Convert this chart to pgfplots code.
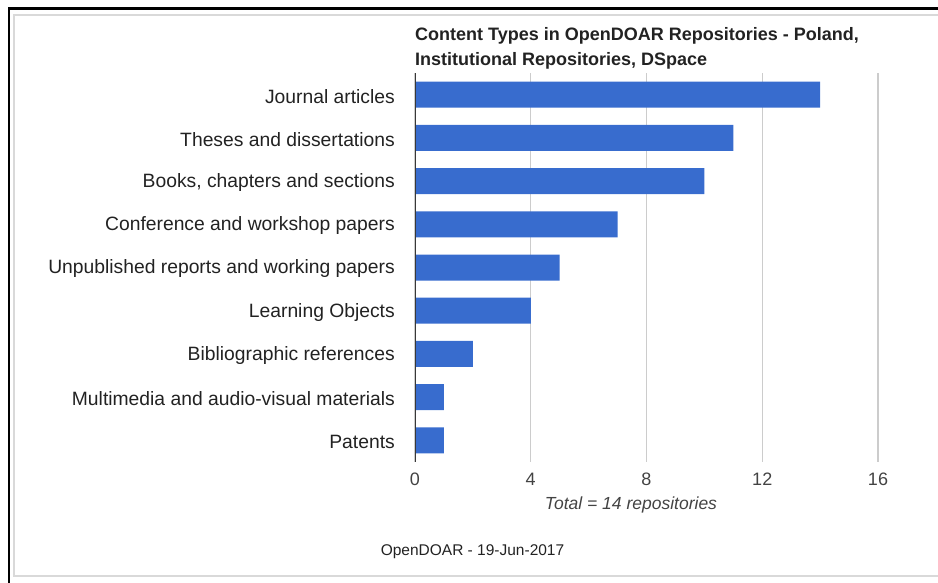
\documentclass[border=0pt]{standalone}
\usepackage{fontspec}
\setmainfont{Liberation Sans}
\usepackage{pgfplots}
\pgfplotsset{compat=1.18}
\definecolor{barblue}{RGB}{56,108,206}
\definecolor{txt}{HTML}{222222}
\definecolor{gridc}{HTML}{CCCCCC}
\definecolor{frameg}{HTML}{D9D9D9}
\begin{document}
\begin{tikzpicture}
\path[use as bounding box] (0,0) rectangle (938bp,583bp);
% outer frame
\draw[black, line width=2.5bp] (9bp,0) -- (9bp,574.5bp) -- (940bp,574.5bp);
\draw[frameg, line width=1.5bp] (14bp,7bp) rectangle (945bp,568bp);
\begin{axis}[
    at={(415bp,121bp)}, anchor=south west,
    scale only axis, width=463bp, height=389bp,
    xbar, bar width=26bp,
    xmin=0, xmax=16, ymin=-0.5, ymax=8.5,
    y dir=reverse,
    xtick={0,4,8,12,16},
    ytick={0,...,8},
    yticklabels={Journal articles,Theses and dissertations,{Books, chapters and sections},Conference and workshop papers,Unpublished reports and working papers,Learning Objects,Bibliographic references,Multimedia and audio-visual materials,Patents},
    xmajorgrids, grid style={gridc, line width=1.2bp},
    axis line style={draw=none},
    major tick length=0pt,
    /pgf/number format/assume math mode=true,
    yticklabel style={font=\fontsize{19.3bp}{22bp}\selectfont, text=txt, inner sep=0pt, anchor=east, xshift=-20bp, yshift=-1.5bp},
    xticklabel style={font=\fontsize{18bp}{22bp}\selectfont, text=txt!85, inner sep=0pt, anchor=north, yshift=-11bp},
]
\addplot[draw=none, fill=barblue] coordinates {(14,0) (11,1) (10,2) (7,3) (5,4) (4,5) (2,6) (1,7) (1,8)};
\draw[txt!90, line width=1.8bp] (rel axis cs:0,0) -- (rel axis cs:0,1);
\end{axis}
\node[anchor=base west, inner sep=0pt, text=txt, font=\fontsize{18bp}{22bp}\selectfont\bfseries] at (415bp,542bp) {Content Types in OpenDOAR Repositories - Poland,};
\node[anchor=base west, inner sep=0pt, text=txt, font=\fontsize{18bp}{22bp}\selectfont\bfseries] at (415bp,517bp) {Institutional Repositories, DSpace};
\node[anchor=base, inner sep=0pt, text=txt!85, font=\fontsize{17.5bp}{22bp}\selectfont\itshape] at (631bp,73bp) {Total = 14 repositories};
\node[anchor=base, inner sep=0pt, text=txt, font=\fontsize{15.5bp}{20bp}\selectfont] at (472.5bp,28bp) {OpenDOAR - 19-Jun-2017};
\end{tikzpicture}
\end{document}
